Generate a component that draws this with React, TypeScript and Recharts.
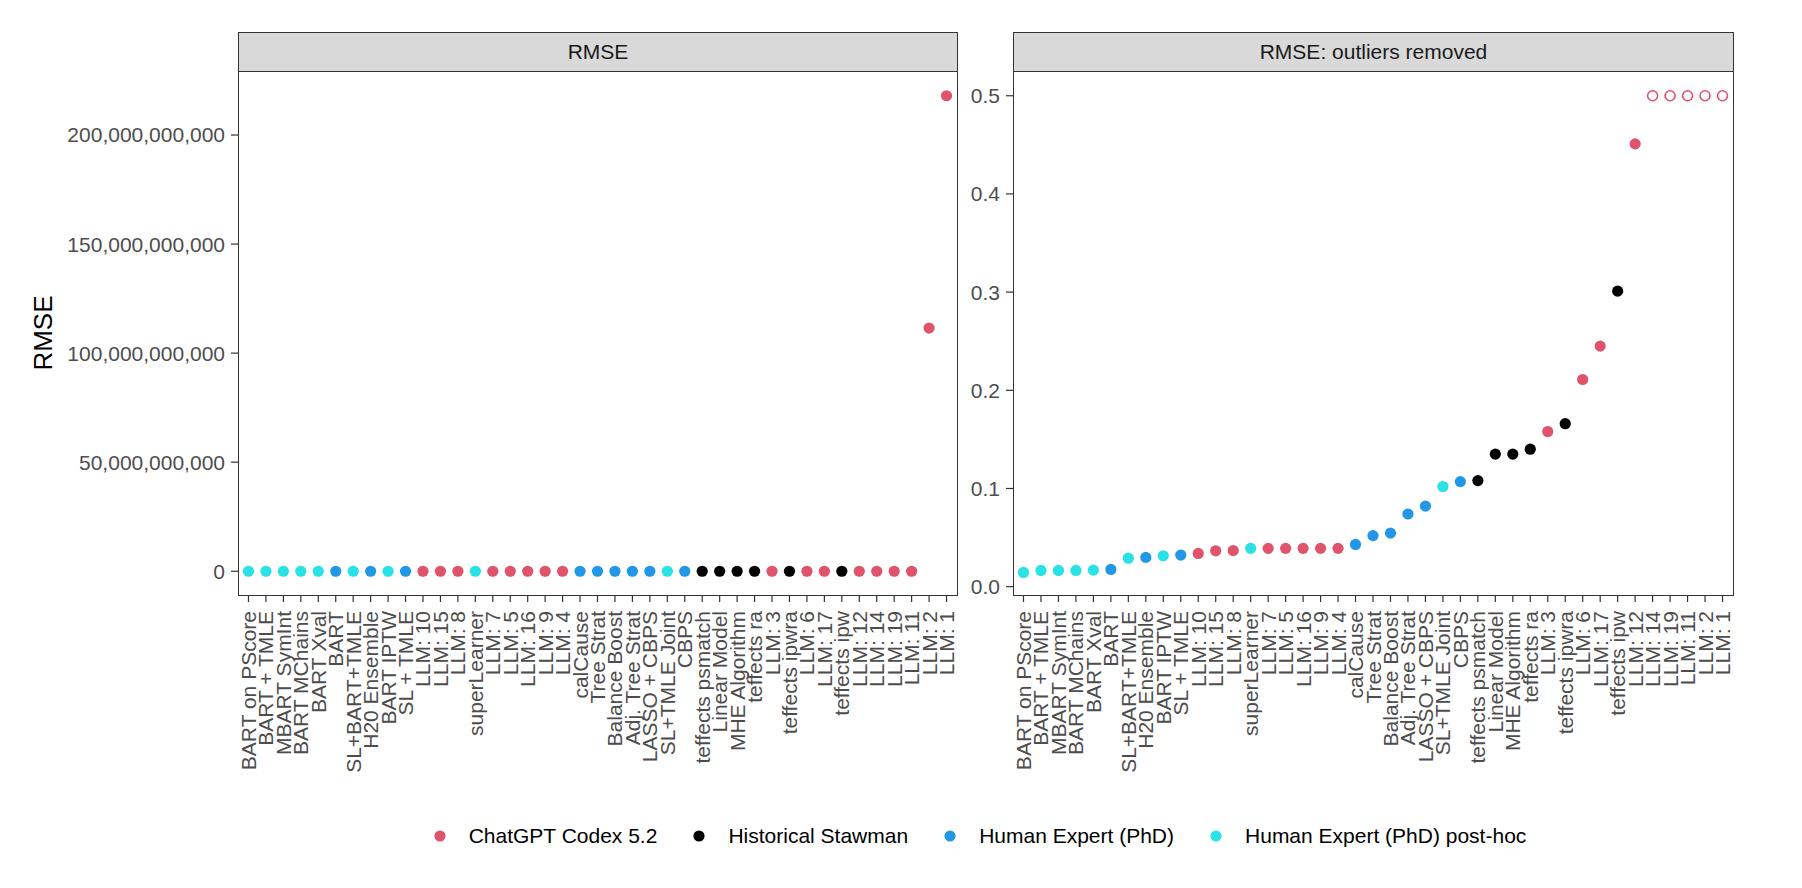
import { ScatterChart, Scatter, XAxis, YAxis } from 'recharts';

const methods = [
  'BART on PScore', 'BART + TMLE', 'MBART SymInt', 'BART MChains', 'BART Xval', 'BART',
  'SL+BART+TMLE', 'H20 Ensemble', 'BART IPTW', 'SL + TMLE', 'LLM: 10', 'LLM: 15', 'LLM: 8',
  'superLearner', 'LLM: 7', 'LLM: 5', 'LLM: 16', 'LLM: 9', 'LLM: 4', 'calCause', 'Tree Strat',
  'Balance Boost', 'Adj. Tree Strat', 'LASSO + CBPS', 'SL+TMLE Joint', 'CBPS', 'teffects psmatch',
  'Linear Model', 'MHE Algorithm', 'teffects ra', 'LLM: 3', 'teffects ipwra', 'LLM: 6', 'LLM: 17',
  'teffects ipw', 'LLM: 12', 'LLM: 14', 'LLM: 19', 'LLM: 11', 'LLM: 2', 'LLM: 1',
];

// C = ChatGPT Codex 5.2, H = Historical Stawman, E = Human Expert (PhD), P = Human Expert (PhD) post-hoc
const sources = [
  'P', 'P', 'P', 'P', 'P', 'E', 'P', 'E', 'P', 'E', 'C', 'C', 'C',
  'P', 'C', 'C', 'C', 'C', 'C', 'E', 'E', 'E', 'E', 'E', 'P', 'E', 'H',
  'H', 'H', 'H', 'C', 'H', 'C', 'C', 'H', 'C', 'C', 'C', 'C', 'C', 'C',
];

const rmse = [
  0.0145, 0.0165, 0.0165, 0.0165, 0.0168, 0.0175, 0.029, 0.0298, 0.0315, 0.0322, 0.0338, 0.0365, 0.0368,
  0.039, 0.039, 0.039, 0.039, 0.039, 0.039, 0.043, 0.052, 0.0545, 0.074, 0.082, 0.102, 0.107, 0.108,
  0.135, 0.135, 0.14, 0.158, 0.166, 0.211, 0.245, 0.301, 0.451, 0.62, 0.95, 4.2, 111.5e9, 218e9,
];

const groups = [
  { key: 'C', name: 'ChatGPT Codex 5.2', color: '#DF536B' },
  { key: 'H', name: 'Historical Stawman', color: '#000000' },
  { key: 'E', name: 'Human Expert (PhD)', color: '#2297E6' },
  { key: 'P', name: 'Human Expert (PhD) post-hoc', color: '#28E2E5' },
];

const leftTicks = [0, 50e9, 100e9, 150e9, 200e9];
const rightTicks = [0, 0.1, 0.2, 0.3, 0.4, 0.5];
const cap = 0.5;

const FONT = '"Liberation Sans", Arial, Helvetica, sans-serif';
const xIdx = methods.map((_, i) => i);

const XTick = (props: any) => {
  const { x, y, payload } = props;
  return (
    <text
      x={x}
      y={y}
      transform={`rotate(-90 ${x} ${y})`}
      textAnchor="end"
      dominantBaseline="central"
      fontSize={21}
      fontFamily={FONT}
      fill="#4D4D4D"
    >
      {methods[payload.value]}
    </text>
  );
};

function Dot(props: any) {
  const { cx, cy, payload, fill } = props;
  if (payload.open) {
    return <circle cx={cx} cy={cy} r={5} fill="#fff" stroke={fill} strokeWidth={1.6} />;
  }
  return <circle cx={cx} cy={cy} r={5.6} fill={fill} />;
}

function Panel({ trimmed, left, width, yWidth, marginRight }: any) {
  const series = groups.map((g) => ({
    ...g,
    data: xIdx
      .filter((i) => sources[i] === g.key)
      .map((i) => ({
        x: i,
        y: trimmed ? Math.min(rmse[i], cap) : rmse[i],
        open: trimmed && rmse[i] > cap,
      })),
  }));
  return (
    <div style={{ position: 'absolute', left, top: 0 }}>
      <ScatterChart width={width} height={800} margin={{ top: 72, right: marginRight, bottom: 0, left: 0 }}>
        <XAxis
          type="number"
          dataKey="x"
          domain={[-0.6, 40.6]}
          ticks={xIdx}
          interval={0}
          axisLine={false}
          tickLine={{ stroke: '#333333', strokeWidth: 1.2 }}
          tickSize={7}
          tickMargin={9}
          tick={<XTick />}
          height={205}
        />
        <YAxis
          type="number"
          dataKey="y"
          domain={trimmed ? [-0.0085, 0.5242] : [-10.9e9, 228.9e9]}
          ticks={trimmed ? rightTicks : leftTicks}
          interval={0}
          allowDataOverflow
          width={yWidth}
          axisLine={false}
          tickLine={{ stroke: '#333333', strokeWidth: 1.2 }}
          tickSize={7}
          tickMargin={6}
          tick={{ fontSize: 21, fontFamily: FONT, fill: '#4D4D4D' }}
          tickFormatter={(v: number) => (trimmed ? v.toFixed(1) : v.toLocaleString('en-US'))}
          label={
            trimmed
              ? undefined
              : {
                  content: () => (
                    <text
                      x={43}
                      y={333}
                      transform="rotate(-90 43 333)"
                      textAnchor="middle"
                      dominantBaseline="central"
                      fontSize={26}
                      fontFamily={FONT}
                      fill="#000"
                    >
                      RMSE
                    </text>
                  ),
                }
          }
        />
        {series.map((s) => (
          <Scatter
            key={s.key}
            name={s.name}
            data={s.data}
            fill={s.color}
            shape={<Dot />}
            isAnimationActive={false}
          />
        ))}
      </ScatterChart>
    </div>
  );
}

function Strip({ left, width, title }: any) {
  return (
    <div
      style={{
        position: 'absolute',
        left,
        top: 32,
        width,
        height: 40,
        boxSizing: 'border-box',
        background: '#D9D9D9',
        border: '1.3px solid #333333',
        display: 'flex',
        alignItems: 'center',
        justifyContent: 'center',
        fontFamily: FONT,
        fontSize: 21,
        color: '#1A1A1A',
      }}
    >
      {title}
    </div>
  );
}

function Border({ left, width }: any) {
  return (
    <div
      style={{
        position: 'absolute',
        left,
        top: 71,
        width,
        height: 525,
        boxSizing: 'border-box',
        border: '1.3px solid #333333',
        pointerEvents: 'none',
      }}
    />
  );
}

export default function App() {
  return (
    <div style={{ position: 'absolute', left: 0, top: 0, width: 1802, height: 888, background: '#fff', overflow: 'hidden' }}>
      <Panel trimmed={false} left={0} width={970} yWidth={238} marginRight={13} />
      <Panel trimmed left={970} width={832} yWidth={43} marginRight={69} />
      <Strip left={238} width={720} title="RMSE" />
      <Strip left={1013} width={721} title="RMSE: outliers removed" />
      <Border left={238} width={720} />
      <Border left={1013} width={721} />
      <div
        style={{
          position: 'absolute',
          left: 0,
          top: 822,
          width: 1996,
          display: 'flex',
          justifyContent: 'center',
          alignItems: 'center',
          fontFamily: FONT,
          fontSize: 21,
          color: '#000',
          height: 28,
        }}
      >
        {groups.map((g) => (
          <div key={g.key} style={{ display: 'flex', alignItems: 'center', marginRight: 36 }}>
            <svg width={12} height={12} style={{ marginRight: 23 }}>
              <circle cx={6} cy={6} r={5.6} fill={g.color} />
            </svg>
            <span>{g.name}</span>
          </div>
        ))}
      </div>
    </div>
  );
}
